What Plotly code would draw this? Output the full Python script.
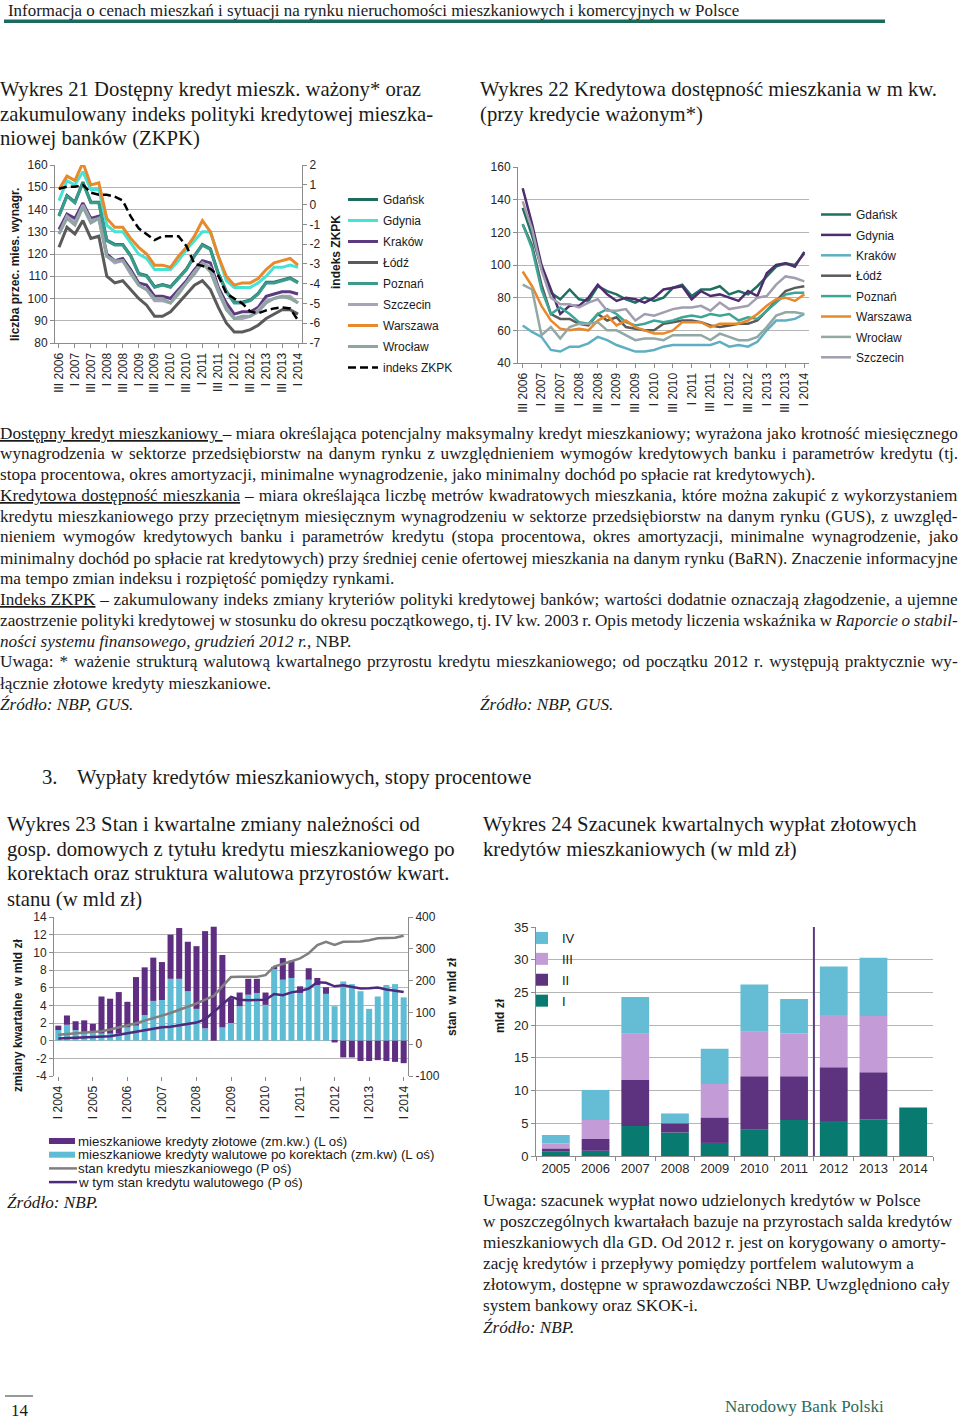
import plotly.graph_objects as go

W, H = 960, 1423
SERIF = "Liberation Serif"
SANS = "Liberation Sans"
TXT = "#1a1a1a"

def X(p): return p / W
def Y(p): return 1 - p / H

# ---------------- Wykres 21 ----------------
quarters21 = ["III 2006", "IV 2006", "I 2007", "II 2007", "III 2007", "IV 2007",
              "I 2008", "II 2008", "III 2008", "IV 2008", "I 2009", "II 2009",
              "III 2009", "IV 2009", "I 2010", "II 2010", "III 2010", "IV 2010",
              "I 2011", "II 2011", "III 2011", "IV 2011", "I 2012", "II 2012",
              "III 2012", "IV 2012", "I 2013", "II 2013", "III 2013", "IV 2013", "I 2014"]
ticks21 = ["III 2006", "I 2007", "III 2007", "I 2008", "III 2008", "I 2009", "III 2009",
           "I 2010", "III 2010", "I 2011", "III 2011", "I 2012", "III 2012", "I 2013",
           "III 2013", "I 2014"]
gdansk21 = [137.3, 146.3, 143.3, 152.3, 143.3, 143.3, 126.3, 124.3, 124.3, 119.3, 111.3, 110.3,
            105.3, 106.3, 105.3, 109.3, 113.3, 119.3, 124.3, 122.3, 111.3, 103.3, 98.3, 98.3,
            99.3, 102.3, 107.3, 107.3, 108.3, 109.3, 107.3]
gdynia21 = [144, 153, 151, 157, 149, 149, 133, 130, 130, 125, 120, 118, 113, 113, 113, 117,
            122, 126, 130, 130, 119, 108, 105, 105, 105, 107, 110, 114, 114, 115, 114]
krakow21 = [131, 138, 136, 143, 136, 137, 120, 117, 118, 113, 107, 106, 101, 101, 100, 104,
            108, 113, 117, 116, 105, 98, 93, 94, 94, 96, 101, 102, 103, 103, 102]
lodz21 = [123, 132, 129, 135, 127, 128, 110, 107, 108, 104, 100, 97, 92, 92, 94, 98,
          102, 106, 108, 104, 96, 89, 85, 85, 86, 88, 91, 93, 95, 95, 93]
poznan21 = [137, 146, 143, 152, 143, 143, 126, 124, 124, 119, 111, 110, 105, 106, 105, 109,
            113, 119, 124, 122, 111, 103, 98, 98, 99, 102, 107, 107, 108, 109, 107]
szczecin21 = [129, 137, 134, 142, 135, 136, 119, 116, 117, 111, 106, 104, 99, 99, 98, 103,
              107, 112, 116, 114, 104, 96, 91, 91, 92, 95, 99, 100, 101, 101, 98]
warszawa21 = [149, 155, 153, 161, 151, 152, 136, 132, 132, 127, 123, 120, 115, 115, 114, 119,
              123, 128, 135, 130, 119, 110, 106, 107, 107, 109, 113, 116, 117, 118, 115]
wroclaw21 = [129, 136, 133, 141, 134, 136, 119, 117, 117, 112, 106, 104, 100, 100, 98, 102,
             107, 111, 116, 112, 103, 95, 91, 92, 92, 94, 98, 100, 101, 100, 98]
zkpk21 = [0.8, 0.9, 0.9, 1.0, 0.6, 0.5, 0.5, 0.4, 0.2, -0.6, -1.2, -1.5, -1.8, -1.6, -1.6, -1.6,
          -2.1, -3.0, -3.1, -3.25, -3.6, -4.5, -4.75, -5.0, -5.4, -5.5, -5.35, -5.25, -5.2,
          -5.25, -5.85]
zkpk_ticks = [2, 1, 0, -1, -2, -3, -4, -5, -6, -7]
zkpk_ticktext = ["2", "1", "0", "-1", "-2", "-3", "-4", "-5", "-6", "-7"]

# ---------------- Wykres 22 ----------------
gdansk22 = [135, 118, 98, 83, 79, 85, 79, 78, 87, 84, 82, 79, 77, 80, 78, 80, 86, 88, 81, 85,
            85, 87, 82, 84, 82, 87, 93, 99, 101, 100, 107]
gdynia22 = [147, 125, 100, 85, 70, 75, 75, 80, 88, 82, 78, 80, 79, 77, 80, 85, 86, 87, 79, 84,
            81, 82, 80, 78, 84, 81, 95, 100, 101, 99, 108]
krakow22 = [63, 59, 56, 48, 47, 50, 50, 52, 56, 54, 51, 49, 47, 47, 48, 50, 51, 51, 51, 51,
            51, 53, 50, 51, 50, 53, 60, 66, 66, 67, 70]
lodz22 = [125, 112, 88, 70, 67, 67, 64, 63, 70, 66, 68, 62, 61, 60, 60, 64, 65, 66, 66, 65,
          63, 62, 63, 64, 64, 66, 72, 78, 84, 86, 87]
poznan22 = [125, 110, 85, 70, 74, 70, 65, 64, 70, 73, 70, 65, 63, 64, 66, 65, 66, 68, 69, 68,
            70, 69, 70, 66, 68, 67, 72, 77, 82, 83, 83]
warszawa22 = [96, 87, 75, 66, 61, 60, 61, 60, 66, 69, 63, 66, 62, 60, 58, 58, 60, 65, 65, 65,
              62, 64, 64, 64, 66, 70, 75, 79, 80, 78, 82]
wroclaw22 = [88, 85, 57, 62, 55, 62, 64, 64, 65, 60, 60, 57, 54, 55, 55, 54, 57, 57, 57, 57,
             54, 58, 56, 54, 54, 56, 62, 69, 71, 71, 70]
szczecin22 = [139, 122, 97, 80, 76, 76, 74, 77, 79, 72, 72, 73, 66, 70, 69, 71, 73, 74, 74, 75,
              72, 77, 73, 74, 75, 80, 81, 88, 93, 92, 90]

# ---------------- Wykres 23 ----------------
quarters23 = ["I 2004", "II 2004", "III 2004", "IV 2004", "I 2005", "II 2005", "III 2005", "IV 2005",
              "I 2006", "II 2006", "III 2006", "IV 2006", "I 2007", "II 2007", "III 2007", "IV 2007",
              "I 2008", "II 2008", "III 2008", "IV 2008", "I 2009", "II 2009", "III 2009", "IV 2009",
              "I 2010", "II 2010", "III 2010", "IV 2010", "I 2011", "II 2011", "III 2011", "IV 2011",
              "I 2012", "II 2012", "III 2012", "IV 2012", "I 2013", "II 2013", "III 2013", "IV 2013",
              "I 2014"]
ticks23 = ["I 2004", "I 2005", "I 2006", "I 2007", "I 2008", "I 2009", "I 2010", "I 2011",
           "I 2012", "I 2013", "I 2014"]
zlotowe23 = [0.5, 1.05, 1.0, 1.3, 0.8, 4.2, 3.95, 4.7, 2.9, 5.5, 5.4, 4.9, 4.3, 5.0, 5.75, 5.6,
             7.1, 11.0, 12.9, 8.2, 2.8, 1.55, 1.8, 1.6, 1.4, 0.15, 2.45, 1.95, 0.75, 1.3, 0.8, 0.75,
             -0.2, -1.9, -1.9, -2.3, -2.3, -2.2, -2.3, -2.4, -2.55]
walutowe23 = [1.2, 1.8, 1.2, 1.0, 1.1, 0.8, 0.8, 0.8, 1.5, 1.7, 2.9, 4.5, 4.6, 7.0, 7.0, 5.6,
              3.6, 1.4, 0.0, 1.5, 2.0, 3.9, 5.2, 5.4, 4.05, 8.2, 6.9, 7.1, 5.4, 6.9, 6.3, 5.3,
              3.9, 6.7, 6.4, 5.6, 3.6, 5.0, 6.3, 6.4, 4.9]
stan23 = [30, 32, 34, 36, 38, 41, 46, 52, 58, 66, 74, 83, 90, 98, 108, 117, 128, 140, 152, 182,
          211, 212, 211, 212, 217, 244, 252, 262, 270, 286, 312, 322, 312, 322, 322, 323, 327,
          333, 334, 335, 341]
stanwal23 = [18, 19, 19, 20, 21, 22, 25, 30, 35, 40, 45, 49, 53, 55, 59, 62, 68, 78, 100, 125,
             149, 140, 138, 138, 140, 158, 154, 163, 167, 175, 195, 193, 182, 185, 180, 175, 176,
             178, 172, 168, 164]
left23_ticks = [14, 12, 10, 8, 6, 4, 2, 0, -2, -4]
left23_text = ["14", "12", "10", "8", "6", "4", "2", "0", "-2", "-4"]
right23_ticks = [400, 300, 200, 100, 0, -100]
right23_text = ["400", "300", "200", "100", "0", "-100"]

# ---------------- Wykres 24 ----------------
years24 = ["2005", "2006", "2007", "2008", "2009", "2010", "2011", "2012", "2013", "2014"]
q1_24 = [0.66, 0.8, 4.6, 3.6, 2.0, 4.1, 5.5, 5.36, 5.6, 7.4]
q2_24 = [0.5, 1.8, 7.0, 1.4, 3.9, 8.1, 6.7, 8.2, 7.2, None]
q3_24 = [0.77, 2.9, 7.1, 0.0, 5.1, 6.8, 6.5, 8.0, 8.6, None]
q4_24 = [1.28, 4.6, 5.6, 1.5, 5.4, 7.2, 5.3, 7.4, 8.9, None]

fig = go.Figure()

s21 = [("Gdańsk", gdansk21, "#1E6B5F"), ("Gdynia", gdynia21, "#45E3D5"),
       ("Kraków", krakow21, "#5C3A80"), ("Łódź", lodz21, "#5A5A5A"),
       ("Poznań", poznan21, "#3A9A8C"), ("Szczecin", szczecin21, "#A9A2B9"),
       ("Warszawa", warszawa21, "#E8892B"), ("Wrocław", wroclaw21, "#8FA5A2")]
for i, (n, v, c) in enumerate(s21):
    fig.add_trace(go.Scatter(x=quarters21, y=v, name=n, mode="lines",
                             line=dict(color=c, width=3), xaxis="x", yaxis="y",
                             legend="legend", legendgroup="a%d" % i, legendrank=i))
fig.add_trace(go.Scatter(x=quarters21, y=zkpk21, name="indeks ZKPK", mode="lines",
                         line=dict(color="black", width=2.5, dash="8px,4px"),
                         xaxis="x", yaxis="y2", legend="legend", legendgroup="a9", legendrank=9))

s22 = [("Gdańsk", gdansk22, "#1F6F62"), ("Gdynia", gdynia22, "#4E2C6E"),
       ("Kraków", krakow22, "#5FAFC2"), ("Łódź", lodz22, "#5A5A5A"),
       ("Poznań", poznan22, "#3DA595"), ("Warszawa", warszawa22, "#E8882A"),
       ("Wrocław", wroclaw22, "#91A8A4"), ("Szczecin", szczecin22, "#A29EB0")]
for i, (n, v, c) in enumerate(s22):
    fig.add_trace(go.Scatter(x=quarters21, y=v, name=n, mode="lines",
                             line=dict(color=c, width=2.5), xaxis="x2", yaxis="y3",
                             legend="legend2", legendgroup="b%d" % i, legendrank=i))

fig.add_trace(go.Bar(x=quarters23, y=walutowe23, name="mieszkaniowe kredyty walutowe po korektach (zm.kw) (L oś)",
                     marker=dict(color="#5EBCD4", line=dict(width=0)), xaxis="x3", yaxis="y4",
                     showlegend=False))
fig.add_trace(go.Bar(x=quarters23, y=zlotowe23, name="mieszkaniowe kredyty złotowe (zm.kw.) (L oś)",
                     marker=dict(color="#5F2E82", line=dict(width=0)), xaxis="x3", yaxis="y4",
                     showlegend=False))
fig.add_trace(go.Scatter(x=quarters23, y=stan23, name="stan kredytu mieszkaniowego (P oś)",
                         mode="lines", line=dict(color="#7F7F7F", width=2.5),
                         xaxis="x3", yaxis="y5", showlegend=False))
fig.add_trace(go.Scatter(x=quarters23, y=stanwal23, name="w tym stan kredytu walutowego (P oś)",
                         mode="lines", line=dict(color="#4E2A7E", width=2.5),
                         xaxis="x3", yaxis="y5", showlegend=False))

s24 = [("I", q1_24, "#087A6F"), ("II", q2_24, "#5D327F"),
       ("III", q3_24, "#C39BD7"), ("IV", q4_24, "#64BDD4")]
for i, (n, v, c) in enumerate(s24):
    fig.add_trace(go.Bar(x=years24, y=v, name=n, marker=dict(color=c, line=dict(width=0)),
                         xaxis="x4", yaxis="y6", legend="legend3",
                         legendgroup="c%d" % i, legendrank=10 - i))

GRID = "#B5B5B5"
LINE = "#8C8C8C"
tickf = dict(family=SANS, size=12, color="#262626")

def yax(dom, rng, dt, **kw):
    d = dict(domain=[Y(dom[1]), Y(dom[0])], range=rng, dtick=dt, showgrid=True,
             gridcolor=GRID, gridwidth=1, showline=True, linecolor=LINE, ticks="outside",
             ticklen=4, tickcolor=LINE, tickfont=tickf, zeroline=False, fixedrange=True)
    d.update(kw)
    return d

def xax(dom, **kw):
    d = dict(domain=[X(dom[0]), X(dom[1])], showgrid=False, showline=True, linecolor=LINE,
             ticks="outside", ticklen=4, tickcolor=LINE, tickfont=tickf, zeroline=False,
             fixedrange=True)
    d.update(kw)
    return d

fig.update_layout(
    width=W, height=H, autosize=False,
    margin=dict(l=0, r=0, t=0, b=0, autoexpand=False),
    paper_bgcolor="white", plot_bgcolor="white",
    barmode="relative", bargap=0.3,
    font=dict(family=SANS, color=TXT),
    xaxis=xax([55, 302], anchor="y", type="category", range=[-0.5, 30.5],
              tickmode="array", tickvals=ticks21, ticktext=ticks21, tickangle=-90),
    yaxis=yax([165, 343], [80, 160], 10, anchor="x"),
    yaxis2=yax([165, 343], [-7, 2], 1, anchor="x", overlaying="y", side="right",
               showgrid=False, tickmode="array", tickvals=zkpk_ticks, ticktext=zkpk_ticktext),
    xaxis2=xax([518, 809], anchor="y3", type="category", range=[-0.5, 30.5],
               tickmode="array", tickvals=ticks21, ticktext=ticks21, tickangle=-90),
    yaxis3=yax([167, 363], [40, 160], 20, anchor="x2"),
    xaxis3=xax([54, 408], anchor="y4", type="category", range=[-0.5, 40.5],
               tickmode="array", tickvals=ticks23, ticktext=ticks23, tickangle=-90,
               showline=False),
    yaxis4=yax([917, 1076], [-4, 14], 2, anchor="x3", tickmode="array",
               tickvals=left23_ticks, ticktext=left23_text),
    yaxis5=yax([917, 1076], [-100, 400], 100, anchor="x3", overlaying="y4", side="right",
               showgrid=False, tickmode="array", tickvals=right23_ticks, ticktext=right23_text),
    xaxis4=xax([536, 933], anchor="y6", type="category", range=[-0.5, 9.5],
               tickson="boundaries", tickfont=dict(family=SANS, size=13, color="#262626")),
    yaxis6=yax([927, 1156], [0, 35], 5, anchor="x4",
               tickfont=dict(family=SANS, size=13, color="#262626")),
    legend=dict(x=X(343), y=Y(185), xanchor="left", yanchor="top", traceorder="grouped",
                tracegroupgap=2, font=dict(family=SANS, size=12, color=TXT),
                bgcolor="rgba(0,0,0,0)"),
    legend2=dict(x=X(816), y=Y(200), xanchor="left", yanchor="top", traceorder="grouped",
                 tracegroupgap=1.4, font=dict(family=SANS, size=12, color=TXT),
                 bgcolor="rgba(0,0,0,0)"),
    legend3=dict(x=X(522), y=Y(923), xanchor="left", yanchor="top", traceorder="grouped",
                 tracegroupgap=1, font=dict(family=SANS, size=13, color=TXT),
                 bgcolor="rgba(0,0,0,0)"),
)

shapes = []
annotations = []

def txt(x, y, s, size=17.2, family=SERIF, color=TXT, anchor="left", angle=0):
    annotations.append(dict(xref="paper", yref="paper", x=X(x), y=Y(y), text=s,
                            showarrow=False, xanchor=anchor, yanchor="middle", textangle=angle,
                            font=dict(family=family, size=size, color=color), borderpad=0))

# header
txt(7, 10, "Informacja o cenach mieszkań i sytuacji na rynku nieruchomości mieszkaniowych i komercyjnych w Polsce", size=16.9)
shapes.append(dict(type="rect", xref="paper", yref="paper", x0=X(4), x1=X(885), y0=Y(23), y1=Y(19.5),
                   fillcolor="#1B6A5B", line=dict(width=0)))

# chart titles
TS = 20.7
txt(-1, 89, "Wykres 21 Dostępny kredyt mieszk. ważony* oraz", size=TS)
txt(-1, 114, "zakumulowany indeks polityki kredytowej mieszka-", size=TS)
txt(-1, 139, "niowej banków (ZKPK)", size=TS)
txt(479, 89, "Wykres 22 Kredytowa dostępność mieszkania w m kw.", size=TS)
txt(479, 114, "(przy kredycie ważonym*)", size=TS)

# axis titles
txt(15, 265, "<b>liczba przec. mies. wynagr.</b>", size=12, family=SANS, anchor="center", angle=-90)
txt(336, 252, "<b>indeks ZKPK</b>", size=12, family=SANS, anchor="center", angle=-90)
txt(18, 1016, "<b>zmiany kwartalne  w mld zł</b>", size=12, family=SANS, anchor="center", angle=-90)
txt(452, 997, "<b>stan  w mld zł</b>", size=12, family=SANS, anchor="center", angle=-90)
txt(500, 1016, "<b>mld zł</b>", size=12, family=SANS, anchor="center", angle=-90)

# body text (justified lines get a word spacing, in px)
BS = 17.2
body = [
    (433, 0.22, "<u>Dostępny kredyt mieszkaniowy </u>– miara określająca potencjalny maksymalny kredyt mieszkaniowy; wyrażona jako krotność miesięcznego"),
    (453, 1.5, "wynagrodzenia w sektorze przedsiębiorstw na danym rynku z uwzględnieniem wymogów kredytowych banku i parametrów kredytu (tj."),
    (474, 0, "stopa procentowa, okres amortyzacji, minimalne wynagrodzenie, jako minimalny dochód po spłacie rat kredytowych)."),
    (495, 0.71, "<u>Kredytowa dostępność mieszkania</u> – miara określająca liczbę metrów kwadratowych mieszkania, które można zakupić z wykorzystaniem"),
    (516, 1.0, "kredytu mieszkaniowego przy przeciętnym miesięcznym wynagrodzeniu w sektorze przedsiębiorstw na danym rynku (GUS), z uwzględ-"),
    (537, 3.2, "nieniem wymogów kredytowych banku i parametrów kredytu (stopa procentowa, okres amortyzacji, minimalne wynagrodzenie, jako"),
    (558, -0.19, "minimalny dochód po spłacie rat kredytowych) przy średniej cenie ofertowej mieszkania na danym rynku (BaRN). Znaczenie informacyjne"),
    (578, 0, "ma tempo zmian indeksu i rozpiętość pomiędzy rynkami."),
    (599, 0.46, "<u>Indeks ZKPK</u> – zakumulowany indeks zmiany kryteriów polityki kredytowej banków; wartości dodatnie oznaczają złagodzenie, a ujemne"),
    (620, -0.65, "zaostrzenie polityki kredytowej w stosunku do okresu początkowego, tj. IV kw. 2003 r. Opis metody liczenia wskaźnika w <i>Raporcie o stabil-</i>"),
    (641, 0, "<i>ności systemu finansowego, grudzień 2012 r.</i>, NBP."),
    (662, 1.67, "Uwaga: * ważenie strukturą walutową kwartalnego przyrostu kredytu mieszkaniowego; od początku 2012 r. występują praktycznie wy-"),
    (683, 0, "łącznie złotowe kredyty mieszkaniowe."),
]
for yy, ws, s in body:
    if ws:
        s = '<span style="word-spacing:%.2fpx">%s</span>' % (ws, s)
    txt(-1, yy, s, size=BS)
txt(-1, 704, "<i>Źródło: NBP, GUS.</i>", size=BS)
txt(479, 704, "<i>Źródło: NBP, GUS.</i>", size=BS)

# section heading
txt(41, 777, "3.", size=TS)
txt(76, 777, "Wypłaty kredytów mieszkaniowych, stopy procentowe", size=TS)

txt(6, 824, "Wykres 23 Stan i kwartalne zmiany należności od", size=TS)
txt(6, 849, "gosp. domowych z tytułu kredytu mieszkaniowego po", size=TS)
txt(6, 874, "korektach oraz struktura walutowa przyrostów kwart.", size=TS)
txt(6, 899, "stanu (w mld zł)", size=TS)
txt(482, 824, "Wykres 24 Szacunek kwartalnych wypłat złotowych", size=TS)
txt(482, 849, "kredytów mieszkaniowych (w mld zł)", size=TS)

# chart 23 legend
leg23 = [("bar", "#5F2E82", "mieszkaniowe kredyty złotowe (zm.kw.) (L oś)"),
         ("bar", "#5EBCD4", "mieszkaniowe kredyty walutowe po korektach (zm.kw) (L oś)"),
         ("line", "#7F7F7F", "stan kredytu mieszkaniowego (P oś)"),
         ("line", "#4E2A7E", "w tym stan kredytu walutowego (P oś)")]
for k, (kind, c, lab) in enumerate(leg23):
    yy = 1141 + k * 13.7
    if kind == "bar":
        shapes.append(dict(type="rect", xref="paper", yref="paper", x0=X(49), x1=X(75),
                           y0=Y(yy + 3), y1=Y(yy - 3), fillcolor=c, line=dict(width=0)))
    else:
        shapes.append(dict(type="line", xref="paper", yref="paper", x0=X(49), x1=X(77),
                           y0=Y(yy), y1=Y(yy), line=dict(color=c, width=2.5)))
    txt(77, yy, lab, size=13.3, family=SANS)
txt(6, 1202, "<i>Źródło: NBP.</i>", size=BS)

# chart 24 note
note24 = ["Uwaga: szacunek wypłat nowo udzielonych kredytów w Polsce",
          "w poszczególnych kwartałach bazuje na przyrostach salda kredytów",
          "mieszkaniowych dla GD. Od 2012 r. jest on korygowany o amorty-",
          "zację kredytów i przepływy pomiędzy portfelem walutowym a",
          "złotowym, dostępne w sprawozdawczości NBP. Uwzględniono cały",
          "system bankowy oraz SKOK-i."]
for k, s in enumerate(note24):
    txt(482, 1200 + k * 21, s, size=BS)
txt(482, 1327, "<i>Źródło: NBP.</i>", size=BS)

# vertical separator in chart 24 (between 2011 and 2012)
shapes.append(dict(type="line", xref="x4", yref="y6", x0=6.5, x1=6.5, y0=0, y1=35,
                   line=dict(color="#5B3C80", width=2)))

# footer
shapes.append(dict(type="line", xref="paper", yref="paper", x0=X(5), x1=X(33), y0=Y(1396), y1=Y(1396),
                   line=dict(color="#333333", width=1)))
txt(10, 1410, "14", size=17)
txt(724, 1406, "Narodowy Bank Polski", size=17, color="#2B6A5E")

fig.update_layout(shapes=shapes, annotations=annotations)
fig.write_html("out.html", post_script="document.body.style.margin='0px';",
               config={"displayModeBar": False})
